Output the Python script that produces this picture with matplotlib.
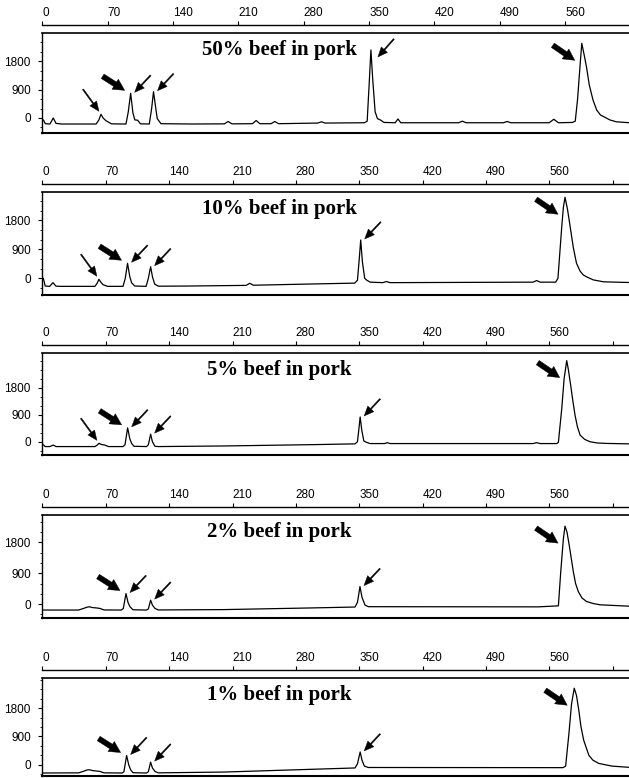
import matplotlib
matplotlib.use("Agg")
import matplotlib.pyplot as plt
from matplotlib import font_manager
from matplotlib.transforms import offset_copy
from matplotlib.ticker import FixedLocator, MultipleLocator

# ---------------- data ----------------
titles = ["50% beef in pork", "10% beef in pork", "5% beef in pork",
          "2% beef in pork", "1% beef in pork"]

x_ticks = [0, 70, 140, 210, 280, 350, 420, 490, 560, 630]
x_tick_labels = ["0", "70", "140", "210", "280", "350", "420", "490", "560", ""]
y_ticks = [0, 900, 1800]
y_tick_labels = ["0", "900", "1800"]

# trace points (size, signal) for each panel
trace_50 = [(-0.5, -60), (1, -60), (3, -180), (8, -190), (11.6, 0), (14.5, -170), (20, -190),
            (57.5, -190), (60.5, -60), (62.7, 117), (65, 0), (68, -85), (74, -185),
            (89.5, -190), (92, 200), (94.5, 780), (97, 150), (99, -60), (102, -70), (105, -185),
            (114.5, -190), (117, 300), (119, 830), (121, 400), (123, -20), (127, -180),
            (160, -190), (195, -185), (199, -110), (203, -185), (225, -180), (229, -80),
            (233, -180), (245, -180), (249, -110), (253, -180), (295, -160), (299, -120),
            (303, -160), (345, -150), (348, -100), (350, 1000), (352, 2150), (354, 1200),
            (356.5, 200), (359, -20), (362, -60), (366, -140), (378, -150), (381, -30),
            (384, -150), (446, -150), (450, -100), (454, -150), (494, -150), (498, -110),
            (502, -150), (543, -150), (548, -40), (553, -150), (568, -140), (571, -100),
            (573.5, 600), (576, 1600), (578, 2360), (580.5, 2000), (583, 1620), (586, 1050),
            (590, 570), (594, 250), (598, 95), (603, 20), (608, -60), (615, -120), (629, -150)]

trace_10 = [(-0.5, 0), (1, 0), (3, -240), (8, -250), (11.6, -136), (15, -245), (20, -250),
            (58, -250), (60.5, -150), (62.4, -31), (64.5, -120), (67, -200), (72, -250),
            (89, -250), (91.5, 0), (94, 465), (96.5, 50), (98.5, -140), (102, -240),
            (114.5, -250), (117, 0), (119.5, 360), (121.5, 50), (124, -180), (128, -245),
            (160, -240), (225, -220), (229, -155), (233, -215), (300, -175), (345, -150),
            (348, -60), (350, 600), (351.6, 1187), (353.5, 500), (356, 0), (358, -53),
            (362, -120), (376, -135), (380, -100), (384, -135), (542, -120), (546, -70),
            (550, -120), (567, -120), (569.5, 0), (571, 570), (573.7, 1600), (575.5, 2200),
            (577.3, 2511), (580, 2150), (583, 1600), (586.5, 950), (590, 465), (594, 220),
            (597.6, 100), (603, 20), (608.6, -50), (620, -110), (648, -130)]

trace_5 = [(-0.5, -100), (1, -100), (3, -160), (8, -160), (12, -110), (15, -160),
           (58, -160), (60.5, -110), (62.4, -53), (65, -90), (69, -110), (73, -160),
           (89, -160), (91.2, -100), (94.1, 462), (96.5, 100), (98.5, -53), (101, -150),
           (115, -160), (117, -100), (119.5, 254), (121.5, 0), (124.3, -150), (128, -160),
           (200, -140), (300, -95), (345.3, -70), (348, 0), (349.5, 400), (351, 825),
           (352.7, 400), (355, 30), (358, -20), (362, -60), (378, -60), (381, -30),
           (384, -60), (542, -60), (546, -30), (550, -60), (568, -60), (570, -20),
           (573.7, 1100), (576.3, 2090), (579.2, 2696), (581, 2400), (583.6, 1870),
           (586, 1350), (588.4, 880), (591, 500), (594, 220), (599, 80), (605, 0),
           (613, -40), (623, -55), (648, -70)]

trace_2 = [(-0.5, -173), (40, -173), (46, -120), (49, -90), (51.7, -77), (55, -100),
           (59, -110), (63.5, -125), (68, -170), (87, -173), (89.3, -130), (92.3, 308),
           (94.5, 50), (96.7, -77), (100, -165), (115, -173), (117, -140), (119.5, 115),
           (121.5, -30), (124.3, -125), (128, -170), (200, -160), (300, -110), (345.3, -85),
           (348, 50), (350.8, 512), (353, 200), (356.4, -30), (360, -75), (548, -80),
           (570, -50), (572.6, 945), (575.5, 1907), (577.3, 2275), (579.5, 2100),
           (582, 1713), (586.5, 945), (589, 600), (592, 367), (596, 180), (601, 78),
           (608, 20), (616, -20), (648, -60)]

trace_1 = [(-0.5, -260), (40, -255), (46, -200), (49, -165), (51.7, -157), (55, -180),
           (59, -195), (63.5, -210), (68, -255), (88, -260), (90, -220), (93, 295),
           (95.3, 0), (97.4, -157), (100, -250), (115, -260), (117, -220), (119.5, 85),
           (121.5, -100), (124.3, -210), (128, -255), (200, -230), (300, -140),
           (345.3, -100), (348, 30), (351, 408), (353, 150), (355.6, -40), (360, -85),
           (575, -90), (578, -40), (581.6, 985), (584.5, 1928), (587.5, 2430), (590, 2200),
           (592.6, 1718), (595, 1200), (598, 775), (603.6, 305), (608, 150), (614.6, 44),
           (629, -40), (648, -80)]

# arrows: (peak size, kind)
arrows_50 = [(62.7, "thinUL"), (94.5, "thickUL"), (94.5, "thinUR"), (119, "thinUR"),
             (352, "thinURflank"), (578, "thickBig")]
arrows_10 = [(62.4, "thinUL"), (94, "thickUL"), (94, "thinUR"), (119.5, "thinUR"),
             (351.6, "thinUR"), (577.3, "thickBig")]
arrows_5 = [(62.4, "thinUL"), (94.1, "thickUL"), (94.1, "thinUR"), (119.5, "thinUR"),
            (351, "thinUR"), (579.2, "thickBig")]
arrows_2 = [(92.3, "thickUL"), (92.3, "thinUR"), (119.5, "thinUR"), (350.8, "thinUR"),
            (577.3, "thickBig")]
arrows_1 = [(93, "thickUL"), (93, "thinUR"), (119.5, "thinUR"), (351, "thinUR"),
            (587.5, "thickBig")]

traces = [trace_50, trace_10, trace_5, trace_2, trace_1]
arrow_sets = [arrows_50, arrows_10, arrows_5, arrows_2, arrows_1]

# ---------------- layout ----------------
W, H = 629, 778
box_px = [(33, 133), (192, 295), (353, 455), (515, 618), (678, 776)]  # top, bottom
xlims = [(-0.5, 628.6), (-0.5, 648), (-0.5, 648), (-0.5, 648), (-0.5, 648)]
ylims = [(-474, 2686), (-518, 2675), (-440, 2950), (-405, 2600), (-355, 2755)]
left_px = 42


def pick(fams):
    for f in fams:
        try:
            font_manager.findfont(f, fallback_to_default=False)
            return f
        except Exception:
            pass
    return "DejaVu Sans"


tick_font = pick(["Liberation Sans Narrow", "Liberation Sans", "Arial"])
title_font = pick(["Liberation Serif", "Times New Roman", "DejaVu Serif"])
tick_size = 9.5 if "Narrow" in tick_font else 8.5

fig = plt.figure(figsize=(W / 100, H / 100), dpi=100)

# arrow geometry: (tip offset from apex in px, tail offset from tip in px, style)
thin_style = dict(arrowstyle="simple,head_length=1.0,head_width=0.85,tail_width=0.13",
                  mutation_scale=7)
thick_style = dict(arrowstyle="simple,head_length=0.9,head_width=0.95,tail_width=0.42",
                   mutation_scale=9)
arrow_geom = {
    "thinUL": ((-2, 3), (-16, 22), thin_style),
    "thickUL": ((-6, 3), (-22, 14), thick_style),
    "thinUR": ((4, 1), (16, 17), thin_style),
    "thinURflank": ((7, -7), (16, 18), thin_style),
    "thickBig": ((-7, -17), (-22, 15), thick_style),
}

for i, (trace, arrows, title) in enumerate(zip(traces, arrow_sets, titles)):
    top, bot = box_px[i]
    ax = fig.add_axes([left_px / W, 1 - bot / H, (W - left_px) / W, (bot - top) / H])
    xs = [p[0] for p in trace]
    ys = [p[1] for p in trace]
    ax.plot(xs, ys, color="black", lw=0.9, solid_joinstyle="round")
    ax.set_xlim(*xlims[i])
    ax.set_ylim(*ylims[i])

    # spines: top spine acts as the ruler, box top drawn separately
    ax.spines["right"].set_visible(False)
    ax.spines["top"].set_position(("outward", 6))
    ax.spines["top"].set_linewidth(1.0)
    ax.spines["left"].set_linewidth(1.0)
    ax.spines["bottom"].set_linewidth(1.5)
    ax.plot([0, 1], [1, 1], transform=ax.transAxes, color="black", lw=1.2,
            clip_on=False)

    ax.xaxis.tick_top()
    ax.xaxis.set_major_locator(FixedLocator(x_ticks))
    ax.set_xticklabels(x_tick_labels, fontsize=tick_size, family=tick_font)
    for lbl in ax.get_xticklabels():
        lbl.set_horizontalalignment("left")
    ax.tick_params(axis="x", which="major", direction="out", length=3, width=0.8,
                   pad=1, top=True, bottom=False)

    ax.yaxis.set_major_locator(FixedLocator(y_ticks))
    ax.yaxis.set_minor_locator(MultipleLocator(300))
    ax.set_yticklabels(y_tick_labels, fontsize=tick_size, family=tick_font)
    ax.tick_params(axis="y", which="major", direction="out", length=3, width=0.8, pad=5)
    ax.tick_params(axis="y", which="minor", direction="out", length=1.5, width=0.6)

    ax.annotate(title, xy=(0.405, 1), xycoords="axes fraction", xytext=(0, -17),
                textcoords="offset pixels", ha="center", va="center",
                fontsize=15, fontweight="bold", family=title_font)

    for px, kind in arrows:
        apex = max(y for x, y in trace if abs(x - px) <= 1.5)
        (dx, dy), (tx, ty), style = arrow_geom[kind]
        tip_tr = offset_copy(ax.transData, fig=fig, x=dx, y=dy, units="dots")
        ax.annotate("", xy=(px, apex), xycoords=tip_tr, xytext=(tx, ty),
                    textcoords="offset pixels",
                    arrowprops=dict(fc="black", ec="black", lw=0.3,
                                    shrinkA=0, shrinkB=0, **style))

fig.savefig("out.png", dpi=100)
